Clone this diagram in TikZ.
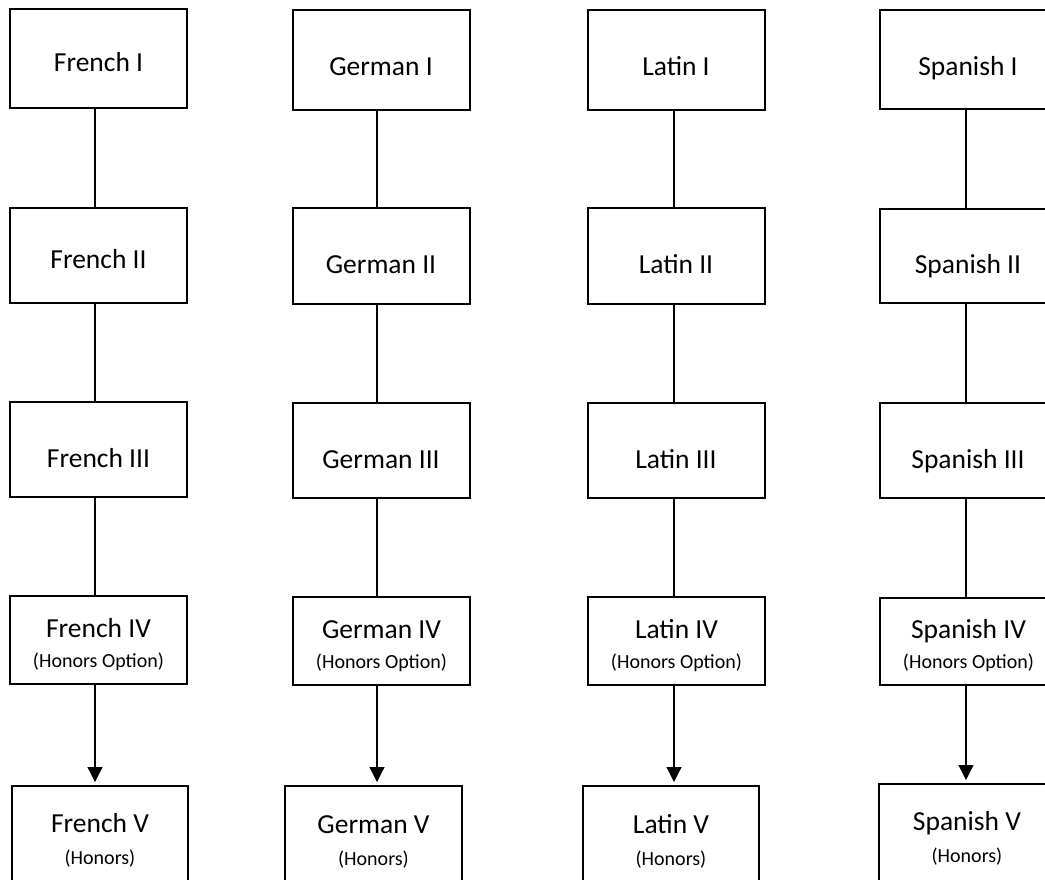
\documentclass[tikz,border=0pt]{standalone}
\usepackage{fontspec}
\setmainfont{Carlito}
\usetikzlibrary{arrows.meta}
\begin{document}
\begin{tikzpicture}[x=1pt,y=-1pt,
  crs/.style={draw, line width=1.2pt, minimum width=177pt, inner sep=0pt, outer sep=0pt},
  maintxt/.style={anchor=base, inner sep=0pt, font=\fontsize{27.5}{33}\selectfont},
  subtxt/.style={anchor=base, inner sep=0pt, font=\fontsize{20}{24}\selectfont},
  link/.style={line width=1.2pt},
  arr/.style={line width=1.2pt, shorten >=4pt, -{Triangle[width=15pt,length=15pt]}}]
\clip (0,0) rectangle (1045,879);

% ---------- French ----------
\coordinate (fx) at (95,0);
\node[crs, minimum height=99pt]  (f1) at (98.5,58.5) {};
\node[crs, minimum height=95pt]  (f2) at (98.5,255.5) {};
\node[crs, minimum height=95pt]  (f3) at (98.5,449.5) {};
\node[crs, minimum height=88pt]  (f4) at (98.5,640) {};
\node[crs, minimum height=114pt, minimum width=176pt] (f5) at (100,843) {};
\node[maintxt] (f1t) at (98.5,71) {French I};
\node[maintxt] (f2t) at (98.5,268) {French II};
\node[maintxt] (f3t) at (98.5,467) {French III};
\node[maintxt] (f4t) at (98.5,637) {French IV};
\node[subtxt]  (f4s) at (98.5,667) {(Honors Option)};
\node[maintxt] (f5t) at (100,832) {French V};
\node[subtxt]  (f5s) at (100,864) {(Honors)};
\draw[link] (f1.south -| fx) -- (f2.north -| fx);
\draw[link] (f2.south -| fx) -- (f3.north -| fx);
\draw[link] (f3.south -| fx) -- (f4.north -| fx);
\draw[arr]  (f4.south -| fx) -- (f5.north -| fx);

% ---------- German ----------
\coordinate (gx) at (377,0);
\node[crs, minimum height=100pt] (g1) at (381.5,60) {};
\node[crs, minimum height=96pt]  (g2) at (381.5,256) {};
\node[crs, minimum height=95pt]  (g3) at (381.5,450.5) {};
\node[crs, minimum height=88pt]  (g4) at (381.5,641) {};
\node[crs, minimum height=114pt] (g5) at (373.5,843) {};
\node[maintxt] (g1t) at (381,75) {German I};
\node[maintxt] (g2t) at (381,273) {German II};
\node[maintxt] (g3t) at (381,468) {German III};
\node[maintxt] (g4t) at (381.5,638) {German IV};
\node[subtxt]  (g4s) at (381.5,668) {(Honors Option)};
\node[maintxt] (g5t) at (373.5,833) {German V};
\node[subtxt]  (g5s) at (373.5,865) {(Honors)};
\draw[link] (g1.south -| gx) -- (g2.north -| gx);
\draw[link] (g2.south -| gx) -- (g3.north -| gx);
\draw[link] (g3.south -| gx) -- (g4.north -| gx);
\draw[arr]  (g4.south -| gx) -- (g5.north -| gx);

% ---------- Latin ----------
\coordinate (lx) at (674,0);
\node[crs, minimum height=100pt] (l1) at (676.5,60) {};
\node[crs, minimum height=96pt]  (l2) at (676.5,256) {};
\node[crs, minimum height=95pt]  (l3) at (676.5,450.5) {};
\node[crs, minimum height=88pt]  (l4) at (676.5,641) {};
\node[crs, minimum height=114pt, minimum width=176pt] (l5) at (671,843) {};
\node[maintxt] (l1t) at (676,75) {Latin I};
\node[maintxt] (l2t) at (676,273) {Latin II};
\node[maintxt] (l3t) at (676,468) {Latin III};
\node[maintxt] (l4t) at (676.5,638) {Latin IV};
\node[subtxt]  (l4s) at (676.5,668) {(Honors Option)};
\node[maintxt] (l5t) at (671,833) {Latin V};
\node[subtxt]  (l5s) at (671,865) {(Honors)};
\draw[link] (l1.south -| lx) -- (l2.north -| lx);
\draw[link] (l2.south -| lx) -- (l3.north -| lx);
\draw[link] (l3.south -| lx) -- (l4.north -| lx);
\draw[arr]  (l4.south -| lx) -- (l5.north -| lx);

% ---------- Spanish ----------
\coordinate (sx) at (966,0);
\node[crs, minimum height=99pt]  (s1) at (968.5,59.5) {};
\node[crs, minimum height=94pt]  (s2) at (968.5,256) {};
\node[crs, minimum height=95pt]  (s3) at (968.5,450.5) {};
\node[crs, minimum height=87pt]  (s4) at (968.5,641.5) {};
\node[crs, minimum height=116pt, minimum width=176pt] (s5) at (967,842) {};
\node[maintxt] (s1t) at (968,75) {Spanish I};
\node[maintxt] (s2t) at (968,273) {Spanish II};
\node[maintxt] (s3t) at (968,468) {Spanish III};
\node[maintxt] (s4t) at (968.5,638) {Spanish IV};
\node[subtxt]  (s4s) at (968.5,668) {(Honors Option)};
\node[maintxt] (s5t) at (967,830) {Spanish V};
\node[subtxt]  (s5s) at (967,862) {(Honors)};
\draw[link] (s1.south -| sx) -- (s2.north -| sx);
\draw[link] (s2.south -| sx) -- (s3.north -| sx);
\draw[link] (s3.south -| sx) -- (s4.north -| sx);
\draw[arr]  (s4.south -| sx) -- (s5.north -| sx);
\end{tikzpicture}
\end{document}
